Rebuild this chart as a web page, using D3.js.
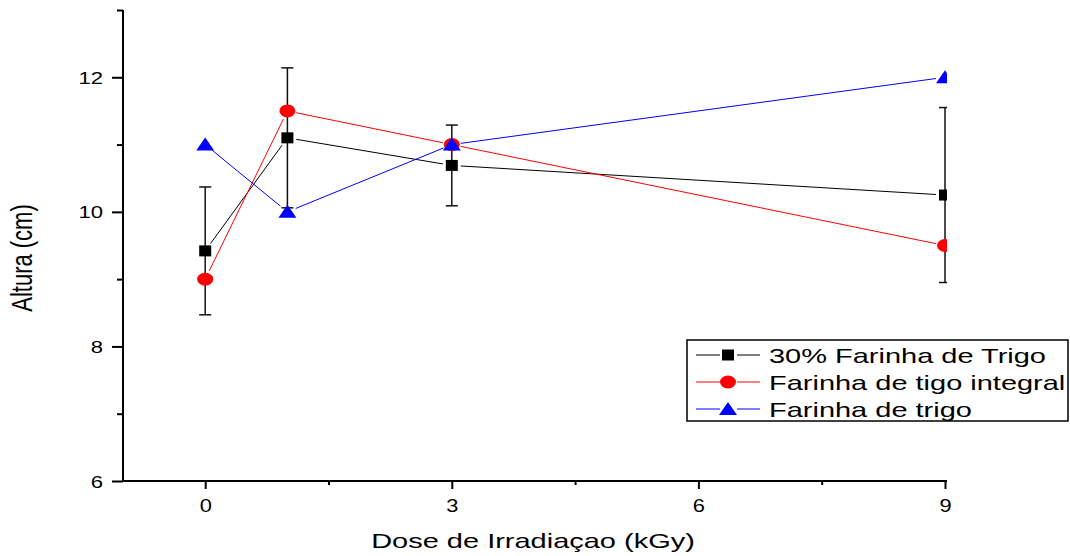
<!DOCTYPE html>
<html>
<head>
<meta charset="utf-8">
<script src="https://cdn.jsdelivr.net/npm/d3@7"></script>
<style>
  html, body { margin: 0; padding: 0; background: #fff; }
  svg { display: block; font-family: "Liberation Sans", Arial, sans-serif; }
</style>
</head>
<body>
<svg id="chart" width="1070" height="556"></svg>
<script>
// Irradiation doses (kGy)
const doses = [0, 1, 3, 9];

// Height (cm) per flour blend
const seriesNames = ["30% Farinha de Trigo", "Farinha de tigo integral", "Farinha de trigo"];
const trigo30 = [9.42, 11.10, 10.69, 10.25];
const trigo30Err = [0.95, 1.04, 0.60, 1.30];
const integral = [9.0, 11.5, 11.0, 9.5];
const trigo = [11.0, 10.0, 11.0, 12.0];

const xTicks = [0, 3, 6, 9];
const xMinorTicks = [1.5, 4.5, 7.5];
const yTicks = [6, 8, 10, 12];
const yMinorTicks = [7, 9, 11, 13];

const xTitle = "Dose de Irradiaçao (kGy)";
const yTitle = "Altura (cm)";

// Text is drawn with a wide horizontal aspect
const stretch = 1.38;

const svg = d3.select("#chart");
const x = d3.scaleLinear().domain([-1, 9]).range([123, 945]);
const y = d3.scaleLinear().domain([6, 13]).range([481, 10]);

const series = [
  { name: seriesNames[0], values: trigo30, err: trigo30Err, color: "#000000", shape: "square" },
  { name: seriesNames[1], values: integral, err: null, color: "#ff0000", shape: "circle" },
  { name: seriesNames[2], values: trigo, err: null, color: "#0000ff", shape: "triangle" }
];

svg.append("defs").append("clipPath").attr("id", "plotClip")
  .append("rect").attr("x", 123).attr("y", 0).attr("width", 947 - 123).attr("height", 482);

const plot = svg.append("g").attr("clip-path", "url(#plotClip)");

// Error bars
series.filter(s => s.err).forEach(s => {
  const g = plot.append("g").attr("stroke", "#111").attr("stroke-width", 1.5);
  doses.forEach((d, i) => {
    const cx = x(d), hi = y(s.values[i] + s.err[i]), lo = y(s.values[i] - s.err[i]);
    g.append("line").attr("x1", cx).attr("x2", cx).attr("y1", hi).attr("y2", lo);
    g.append("line").attr("x1", cx - 6).attr("x2", cx + 6).attr("y1", hi).attr("y2", hi);
    g.append("line").attr("x1", cx - 6).attr("x2", cx + 6).attr("y1", lo).attr("y2", lo);
  });
});

// Connecting segments, stopped short of each marker
const gap = 9;
series.forEach(s => {
  const pts = doses.map((d, i) => [x(d), y(s.values[i])]);
  for (let i = 0; i < pts.length - 1; i++) {
    const [x1, y1] = pts[i], [x2, y2] = pts[i + 1];
    const len = Math.hypot(x2 - x1, y2 - y1);
    const ux = (x2 - x1) / len, uy = (y2 - y1) / len;
    plot.append("line")
      .attr("x1", x1 + ux * gap).attr("y1", y1 + uy * gap)
      .attr("x2", x2 - ux * gap).attr("y2", y2 - uy * gap)
      .attr("stroke", s.color).attr("stroke-width", 1);
  }
});

function drawMarker(g, shape, cx, cy, color) {
  if (shape === "square") {
    g.append("rect").attr("x", cx - 6).attr("y", cy - 5.5).attr("width", 12).attr("height", 11).attr("fill", color);
  } else if (shape === "circle") {
    g.append("ellipse").attr("cx", cx).attr("cy", cy).attr("rx", 8).attr("ry", 6.5).attr("fill", color);
  } else {
    g.append("path")
      .attr("d", `M${cx},${cy - 7}L${cx + 9},${cy + 6}L${cx - 9},${cy + 6}Z`)
      .attr("fill", color);
  }
}

series.forEach(s => {
  doses.forEach((d, i) => drawMarker(plot, s.shape, x(d), y(s.values[i]), s.color));
});

// Axes
const axisG = svg.append("g").attr("stroke", "#000").attr("stroke-width", 2);
axisG.append("line").attr("x1", 122).attr("x2", 947).attr("y1", 481).attr("y2", 481);
axisG.append("line").attr("x1", 123).attr("x2", 123).attr("y1", 10).attr("y2", 482);

const xAxis = svg.append("g").attr("transform", "translate(0,481)")
  .call(d3.axisBottom(x).tickValues(xTicks).tickSize(8).tickFormat(d3.format("d")));
xAxis.select(".domain").remove();
xAxis.selectAll(".tick line").attr("stroke-width", 2);
xAxis.selectAll("text")
  .attr("y", 0).attr("dy", 0)
  .attr("transform", "translate(0,31) scale(1.15,1)")
  .attr("font-size", 19).attr("fill", "#000").attr("font-family", "Liberation Sans, Arial, sans-serif");

const xMinor = svg.append("g").attr("transform", "translate(0,481)")
  .call(d3.axisBottom(x).tickValues(xMinorTicks).tickSize(4).tickFormat(""));
xMinor.select(".domain").remove();
xMinor.selectAll(".tick line").attr("stroke-width", 2);

const yAxis = svg.append("g").attr("transform", "translate(123,0)")
  .call(d3.axisLeft(y).tickValues(yTicks).tickSize(11).tickFormat(d3.format("d")));
yAxis.select(".domain").remove();
yAxis.selectAll(".tick line").attr("stroke-width", 2);
yAxis.selectAll("text")
  .attr("x", 0).attr("dy", 0)
  .attr("transform", "translate(-20,6) scale(1.3,1)")
  .attr("font-size", 17).attr("fill", "#000").attr("font-family", "Liberation Sans, Arial, sans-serif");

const yMinor = svg.append("g").attr("transform", "translate(123,0)")
  .call(d3.axisLeft(y).tickValues(yMinorTicks).tickSize(6).tickFormat(""));
yMinor.select(".domain").remove();
yMinor.selectAll(".tick line").attr("stroke-width", 2);

// Axis titles
svg.append("text").attr("transform", `translate(533,548) scale(${stretch},1)`).attr("text-anchor", "middle")
  .attr("font-size", 21).attr("fill", "#000").text(xTitle);
svg.append("text").attr("transform", `translate(32,258) scale(${stretch},1) rotate(-90)`)
  .attr("text-anchor", "middle").attr("font-size", 22).attr("fill", "#000").text(yTitle);

// Legend
const legend = svg.append("g");
legend.append("rect").attr("x", 687).attr("y", 340).attr("width", 381).attr("height", 81)
  .attr("fill", "#fff").attr("stroke", "#000").attr("stroke-width", 1.5);
series.forEach((s, i) => {
  const cy = 355 + i * 27;
  legend.append("line").attr("x1", 696).attr("x2", 720).attr("y1", cy).attr("y2", cy).attr("stroke", s.color).attr("stroke-width", 1);
  legend.append("line").attr("x1", 737).attr("x2", 760).attr("y1", cy).attr("y2", cy).attr("stroke", s.color).attr("stroke-width", 1);
  drawMarker(legend, s.shape, 728, cy, s.color);
  legend.append("text").attr("transform", `translate(769,${cy + 7.5}) scale(${stretch},1)`)
    .attr("font-size", 21).attr("fill", "#000").text(s.name);
});
</script>
</body>
</html>
